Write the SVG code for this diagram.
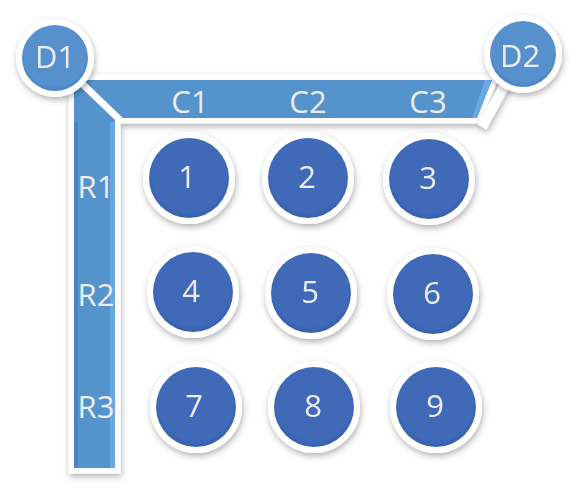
<svg xmlns="http://www.w3.org/2000/svg" width="578" height="491" viewBox="0 0 578 491">
<defs>
<filter id="sh" x="-20%" y="-20%" width="140%" height="140%">
<feDropShadow dx="1" dy="3" stdDeviation="3" flood-color="#000" flood-opacity="0.3"/>
</filter>
<radialGradient id="ng" cx="0.5" cy="0.45" r="0.55">
<stop offset="0.85" stop-color="#3F69B8"/>
<stop offset="1" stop-color="#3560AE"/>
</radialGradient>
<radialGradient id="dg" cx="0.5" cy="0.45" r="0.55">
<stop offset="0.85" stop-color="#5691CE"/>
<stop offset="1" stop-color="#4A84C2"/>
</radialGradient>
</defs>
<style>
.bar{fill:#5593CD;stroke:#fff;stroke-width:11;stroke-linejoin:miter;paint-order:stroke}
.num{fill:url(#ng);stroke:#fff;stroke-width:12;paint-order:stroke}
.dn{fill:url(#dg);stroke:#fff;stroke-width:12;paint-order:stroke}
text{font-family:"Open Sans","Noto Sans","DejaVu Sans",sans-serif;font-size:31px;fill:#ECECEC;text-anchor:middle}
.cut{stroke:#fff;fill:none}
</style>
<g id="bars" filter="url(#sh)">
<polygon class="bar" points="74,80 492,80 477,118 115,118 115,468 74,468"/>
</g>
<g id="bevel">
<rect x="110" y="122" width="5" height="346" fill="#68A8E2"/>
<rect x="74" y="122" width="4" height="346" fill="#4A84C2"/>
<polygon points="485,80 492,80 477,118 472,118" fill="#6AA9E2"/>
</g>
<g id="connectors">
<line class="cut" x1="70" y1="72" x2="120" y2="120" stroke-width="7"/>
<line class="cut" x1="510" y1="76" x2="482" y2="127" stroke-width="10" filter="url(#sh)"/>
</g>
<g id="labels">
<text x="190" y="113">C1</text>
<text x="308" y="113">C2</text>
<text x="428" y="113">C3</text>
<text x="96" y="198">R1</text>
<text x="96" y="306">R2</text>
<text x="96" y="418">R3</text>
</g>
<g id="D1" filter="url(#sh)"><circle class="dn" cx="55" cy="58" r="33"/><text x="55" y="68">D1</text></g>
<g id="D2" filter="url(#sh)"><circle class="dn" cx="523" cy="54" r="33"/><text x="520" y="67">D2</text></g>
<g id="n1" filter="url(#sh)"><circle class="num" cx="189" cy="178" r="40"/><text x="187" y="188">1</text></g>
<g id="n2" filter="url(#sh)"><circle class="num" cx="308" cy="178" r="40"/><text x="307" y="188">2</text></g>
<g id="n3" filter="url(#sh)"><circle class="num" cx="429" cy="179" r="40"/><text x="428" y="189">3</text></g>
<g id="n4" filter="url(#sh)"><circle class="num" cx="193" cy="292" r="40"/><text x="191" y="302">4</text></g>
<g id="n5" filter="url(#sh)"><circle class="num" cx="311" cy="293" r="40"/><text x="310" y="303">5</text></g>
<g id="n6" filter="url(#sh)"><circle class="num" cx="433" cy="294" r="40"/><text x="432" y="304">6</text></g>
<g id="n7" filter="url(#sh)"><circle class="num" cx="196" cy="407" r="40"/><text x="194" y="417">7</text></g>
<g id="n8" filter="url(#sh)"><circle class="num" cx="314" cy="407" r="40"/><text x="313" y="417">8</text></g>
<g id="n9" filter="url(#sh)"><circle class="num" cx="436" cy="407" r="40"/><text x="435" y="417">9</text></g>
</svg>
